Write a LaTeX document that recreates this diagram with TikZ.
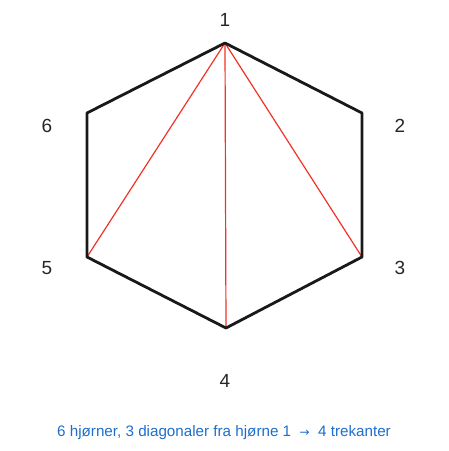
\documentclass[tikz,border=0pt]{standalone}
\usepackage{fontspec}
\setmainfont{Liberation Sans}
\newfontfamily\arrowfont{DejaVu Sans}
\usetikzlibrary{positioning}
\definecolor{captionblue}{RGB}{30,110,205}
\definecolor{diagred}{RGB}{240,50,40}

\begin{document}
\begin{tikzpicture}[x=1pt, y=-1pt,
                    edge/.style = {
                      line width=2.8pt, line join=round,
                      draw=black!90
                    },
                    diagonal/.style = {
                      line width=1.2pt, draw=diagred
                    },
                    corner/.style = {
                      font=\fontsize{19}{21}\selectfont, text=black!85
                    },
                    caption/.style = {
                      font=\fontsize{15.2}{17}\selectfont, text=captionblue
                    }]
  \useasboundingbox (0,0) rectangle (449,451);

  % corners of the hexagon
  \coordinate (c1) at (225,43);
  \coordinate (c2) at (362,113);
  \coordinate (c3) at (362,257);
  \coordinate (c4) at (226,328);
  \coordinate (c5) at (87,257);
  \coordinate (c6) at (87,113);

  % labels
  \node[corner] (l1) at (225,20) {1};
  \node[corner] (l2) at (400,126) {2};
  \node[corner] (l3) at (400,268) {3};
  \node[corner] (l4) at (225,381) {4};
  \node[corner] (l5) at (47,268) {5};
  \node[corner] (l6) at (47,126) {6};

  % diagonals from corner 1
  \draw[diagonal] (c1) -- (c3);
  \draw[diagonal] (c1) -- (c4);
  \draw[diagonal] (c1) -- (c5);

  \draw[edge] (c1) -- (c2) -- (c3) -- (c4) -- (c5) -- (c6) -- cycle;

  \node[caption] (cap) at (224,433)
    {6 hjørner, 3 diagonaler fra hjørne 1 \ {\arrowfont\fontsize{12}{14}\selectfont →} \ 4 trekanter};
\end{tikzpicture}
\end{document}
